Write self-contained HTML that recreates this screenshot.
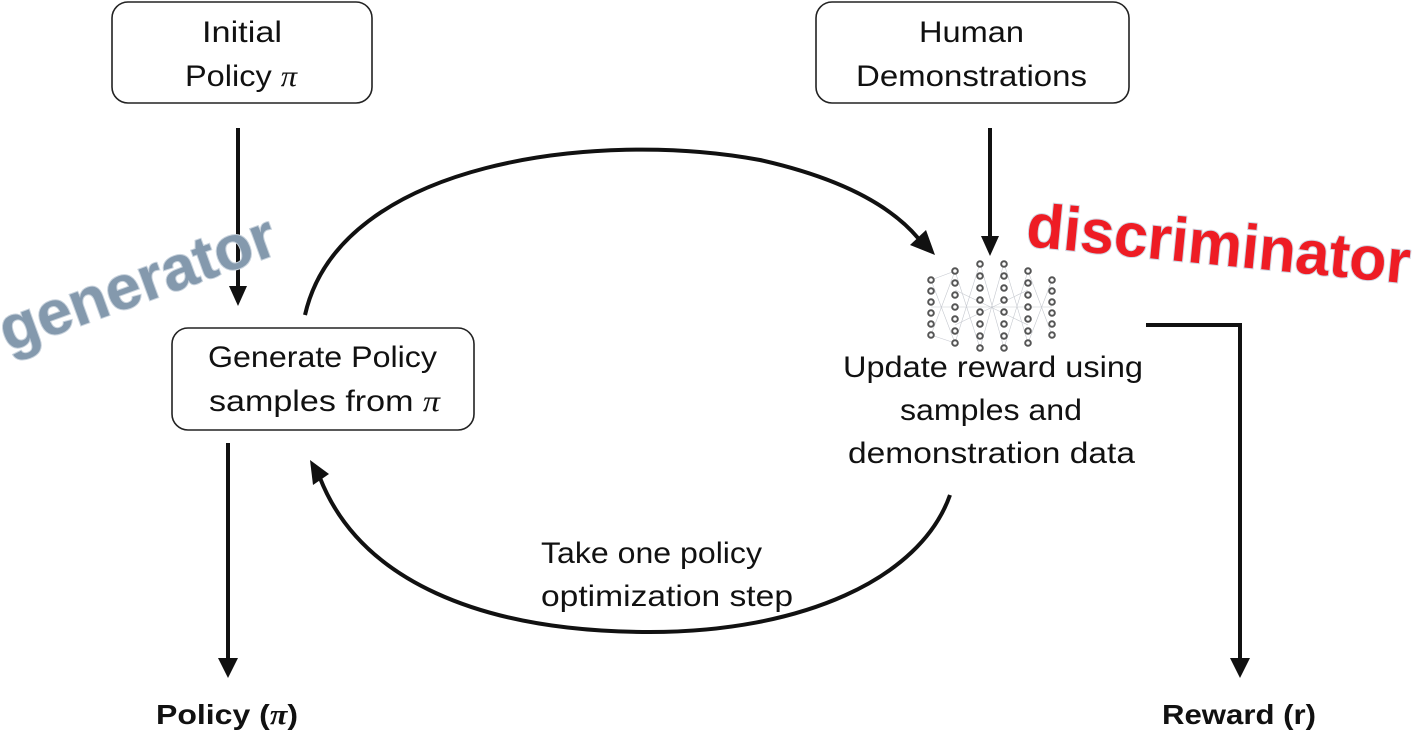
<!DOCTYPE html>
<html><head><meta charset="utf-8"><style>
html,body{margin:0;padding:0;background:#fff;}
svg{display:block;}
text{font-family:"Liberation Sans",sans-serif;}
</style></head><body>
<svg width="1419" height="733" viewBox="0 0 1419 733" xmlns="http://www.w3.org/2000/svg">
<g fill="none" stroke="#222" stroke-width="1.6">
<rect x="112" y="2" width="260" height="101" rx="16"/>
<rect x="816" y="2" width="313" height="101" rx="16"/>
<rect x="172" y="328" width="302" height="102" rx="16"/>
</g>
<g font-size="30" fill="#111" lengthAdjust="spacingAndGlyphs">
<text x="202" y="42" textLength="80" lengthAdjust="spacingAndGlyphs">Initial</text>
<text x="185" y="86" textLength="112" lengthAdjust="spacingAndGlyphs">Policy <tspan font-family="Liberation Serif" font-style="italic">π</tspan></text>
<text x="919" y="42" textLength="105" lengthAdjust="spacingAndGlyphs">Human</text>
<text x="856" y="86" textLength="231" lengthAdjust="spacingAndGlyphs">Demonstrations</text>
<text x="208" y="367" textLength="229" lengthAdjust="spacingAndGlyphs">Generate Policy</text>
<text x="209" y="411" textLength="231" lengthAdjust="spacingAndGlyphs">samples from <tspan font-family="Liberation Serif" font-style="italic">π</tspan></text>
<text x="843" y="377" textLength="300" lengthAdjust="spacingAndGlyphs">Update reward using</text>
<text x="900" y="420" textLength="182" lengthAdjust="spacingAndGlyphs">samples and</text>
<text x="848" y="463" textLength="287" lengthAdjust="spacingAndGlyphs">demonstration data</text>
<text x="541" y="563" textLength="221" lengthAdjust="spacingAndGlyphs">Take one policy</text>
<text x="541" y="606" textLength="252" lengthAdjust="spacingAndGlyphs">optimization step</text>
<text x="156" y="724" font-weight="bold" font-size="28" textLength="142" lengthAdjust="spacingAndGlyphs">Policy (<tspan font-family="Liberation Serif" font-style="italic">π</tspan>)</text>
<text x="1162" y="724" font-weight="bold" font-size="28" textLength="154" lengthAdjust="spacingAndGlyphs">Reward (r)</text>
</g>
<g stroke="#111" stroke-width="4" fill="none">
<line x1="238" y1="128" x2="238" y2="290"/>
<line x1="990" y1="128" x2="990" y2="238"/>
<line x1="228" y1="443" x2="228" y2="660"/>
<polyline points="1146,325 1240,325 1240,660"/>
<path d="M305,315 C340,160 600,130 760,160 C840,178 890,205 918,238"/>
<path d="M950,495 C920,580 800,632 650,632 C480,632 360,580 320,478"/>
</g>
<g fill="#111">
<polygon points="229,286 247,286 238,306"/>
<polygon points="981,236 999,236 990,256"/>
<polygon points="218,658 238,658 228,678"/>
<polygon points="1230,658 1250,658 1240,678"/>
<polygon points="935,255 910,245 926,230"/>
<polygon points="310,460 313,485 329,474"/>
</g>
<g stroke="#b8bcc4" stroke-width="0.6" opacity="0.8">
<path d="M931,280 L955,271 M931,280 L955,343 M931,335 L955,271 M931,335 L955,343 M955,271 L980,348 M955,343 L980,263 M980,263 L1004,348 M980,348 L1004,263 M1004,263 L1028,343 M1004,348 L1028,271 M1028,271 L1052,335 M1028,343 L1052,280 M931,307 L1052,307 M955,290 L1028,325 M955,325 L1028,290"/>
</g>
<g fill="#fff" stroke="#555" stroke-width="2">
<circle cx="931" cy="280" r="2.8"/><circle cx="931" cy="291" r="2.8"/><circle cx="931" cy="302" r="2.8"/><circle cx="931" cy="313" r="2.8"/><circle cx="931" cy="324" r="2.8"/><circle cx="931" cy="335" r="2.8"/>
<circle cx="955" cy="271" r="2.8"/><circle cx="955" cy="283" r="2.8"/><circle cx="955" cy="295" r="2.8"/><circle cx="955" cy="307" r="2.8"/><circle cx="955" cy="319" r="2.8"/><circle cx="955" cy="331" r="2.8"/><circle cx="955" cy="343" r="2.8"/>
<circle cx="980" cy="264" r="2.8"/><circle cx="980" cy="276" r="2.8"/><circle cx="980" cy="288" r="2.8"/><circle cx="980" cy="300" r="2.8"/><circle cx="980" cy="312" r="2.8"/><circle cx="980" cy="324" r="2.8"/><circle cx="980" cy="336" r="2.8"/><circle cx="980" cy="348" r="2.8"/>
<circle cx="1004" cy="264" r="2.8"/><circle cx="1004" cy="276" r="2.8"/><circle cx="1004" cy="288" r="2.8"/><circle cx="1004" cy="300" r="2.8"/><circle cx="1004" cy="312" r="2.8"/><circle cx="1004" cy="324" r="2.8"/><circle cx="1004" cy="336" r="2.8"/><circle cx="1004" cy="348" r="2.8"/>
<circle cx="1028" cy="271" r="2.8"/><circle cx="1028" cy="283" r="2.8"/><circle cx="1028" cy="295" r="2.8"/><circle cx="1028" cy="307" r="2.8"/><circle cx="1028" cy="319" r="2.8"/><circle cx="1028" cy="331" r="2.8"/><circle cx="1028" cy="343" r="2.8"/>
<circle cx="1052" cy="280" r="2.8"/><circle cx="1052" cy="291" r="2.8"/><circle cx="1052" cy="302" r="2.8"/><circle cx="1052" cy="313" r="2.8"/><circle cx="1052" cy="324" r="2.8"/><circle cx="1052" cy="335" r="2.8"/>
</g>
<text transform="translate(8,352) rotate(-20)" font-size="62" font-weight="bold" fill="#8499ad" stroke="#c8d2dc" stroke-width="2" paint-order="stroke" textLength="290" lengthAdjust="spacingAndGlyphs">generator</text>
<text transform="translate(1025,246) rotate(5.6)" font-size="62" font-weight="bold" fill="#ee1c24" stroke="#d0d8e4" stroke-width="2" paint-order="stroke" textLength="385" lengthAdjust="spacingAndGlyphs">discriminator</text>
</svg>
</body></html>
